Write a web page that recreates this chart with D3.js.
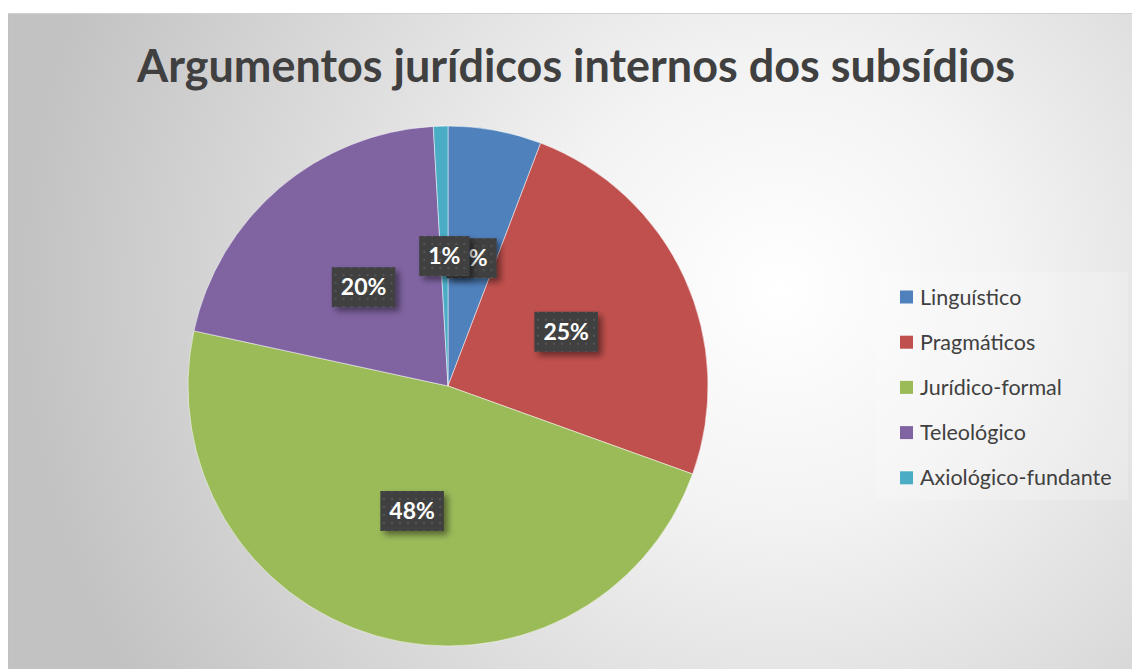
<!DOCTYPE html>
<html>
<head>
<meta charset="utf-8">
<script src="https://cdn.jsdelivr.net/npm/d3@7"></script>
<style>
  body { margin: 0; background: #fff; }
  svg { display: block; font-family: Lato, "Open Sans", sans-serif; }
</style>
</head>
<body>
<svg width="1132" height="669"></svg>
<script>
// data
var categories = ["Linguístico", "Pragmáticos", "Jurídico-formal", "Teleológico", "Axiológico-fundante"];
var values = [5.8, 24.7, 47.9, 20.7, 0.9];
var labels = ["6%", "25%", "48%", "20%", "1%"];
var colors = ["#4F81BD", "#C0504D", "#9BBB59", "#8064A2", "#4BACC6"];
var title = "Argumentos jurídicos internos dos subsídios";

var svg = d3.select("svg"),
    width = 1132,
    height = 669;

var defs = svg.append("defs");

// background gradient
var bg = defs.append("radialGradient")
    .attr("id", "bg")
    .attr("gradientUnits", "userSpaceOnUse")
    .attr("cx", 780).attr("cy", 290).attr("r", 760);
bg.append("stop").attr("offset", "0").attr("stop-color", "#ffffff");
bg.append("stop").attr("offset", "0.3").attr("stop-color", "#f3f3f3");
bg.append("stop").attr("offset", "1").attr("stop-color", "#c2c2c2");

// dotted pattern for label boxes
var pat = defs.append("pattern")
    .attr("id", "dots")
    .attr("patternUnits", "userSpaceOnUse")
    .attr("width", 8).attr("height", 8);
pat.append("rect").attr("width", 8).attr("height", 8).attr("fill", "#3f3f3f");
pat.append("circle").attr("cx", 4).attr("cy", 4).attr("r", 1.2).attr("fill", "#545454");

var shadow = defs.append("filter").attr("id", "shadow")
    .attr("x", "-30%").attr("y", "-30%").attr("width", "170%").attr("height", "170%");
shadow.append("feDropShadow")
    .attr("dx", 4).attr("dy", 4).attr("stdDeviation", 3)
    .attr("flood-color", "#000").attr("flood-opacity", 0.45);

// chart area
svg.append("rect")
    .attr("x", 8).attr("y", 14)
    .attr("width", width - 8).attr("height", height - 14)
    .attr("fill", "url(#bg)");
svg.append("line")
    .attr("x1", 8).attr("x2", width).attr("y1", 13.5).attr("y2", 13.5)
    .attr("stroke", "#d0d0d0");
svg.append("line")
    .attr("x1", 8.5).attr("x2", 8.5).attr("y1", 14).attr("y2", height)
    .attr("stroke", "#c0c0c0");

// title
var t = svg.append("text")
    .attr("x", 576).attr("y", 82)
    .attr("text-anchor", "middle")
    .attr("font-weight", "bold")
    .attr("font-size", 42)
    .attr("fill", "#404040")
    .text(title);
var tw = t.node().getComputedTextLength();
t.attr("font-size", 42 * 878 / tw);

// pie
var cx = 448, cy = 386, R = 260;
var pie = d3.pie().sort(null).value(d => d);
var arcs = pie(values);
var arc = d3.arc().innerRadius(0).outerRadius(R);
var labelArc = d3.arc().innerRadius(R * 0.5).outerRadius(R * 0.5);

var g = svg.append("g").attr("transform", "translate(" + cx + "," + cy + ")");

g.selectAll("path.slice")
    .data(arcs)
    .enter().append("path")
    .attr("class", "slice")
    .attr("d", arc)
    .attr("fill", (d, i) => colors[i])
    .attr("stroke", "#ffffff")
    .attr("stroke-width", 0.5);

// data labels
var lab = g.selectAll("g.lab")
    .data(arcs)
    .enter().append("g")
    .attr("class", "lab")
    .attr("transform", d => "translate(" + labelArc.centroid(d) + ")");

lab.each(function (d, i) {
    var gg = d3.select(this);
    var box = gg.append("rect").attr("fill", "url(#dots)").attr("filter", "url(#shadow)");
    var tx = gg.append("text")
        .attr("text-anchor", "middle")
        .attr("dy", "0.36em")
        .attr("font-weight", "bold")
        .attr("font-size", 23)
        .attr("fill", "#ffffff")
        .text(labels[i]);
    var w = tx.node().getComputedTextLength() + 18;
    box.attr("x", -w / 2).attr("y", -20).attr("width", w).attr("height", 40);
});

// legend
var legend = svg.append("g");
legend.append("rect")
    .attr("x", 876).attr("y", 272)
    .attr("width", 252).attr("height", 228)
    .attr("fill", "#ffffff").attr("fill-opacity", 0.2);

var item = legend.selectAll("g.item")
    .data(categories)
    .enter().append("g")
    .attr("class", "item")
    .attr("transform", (d, i) => "translate(900," + (297 + i * 45.2) + ")");

item.append("rect")
    .attr("x", 0).attr("y", -6.5)
    .attr("width", 13).attr("height", 13)
    .attr("fill", (d, i) => colors[i]);

item.append("text")
    .attr("x", 20).attr("dy", "0.35em")
    .attr("font-size", 21.5)
    .attr("fill", "#404040")
    .text(d => d);
</script>
</body>
</html>
